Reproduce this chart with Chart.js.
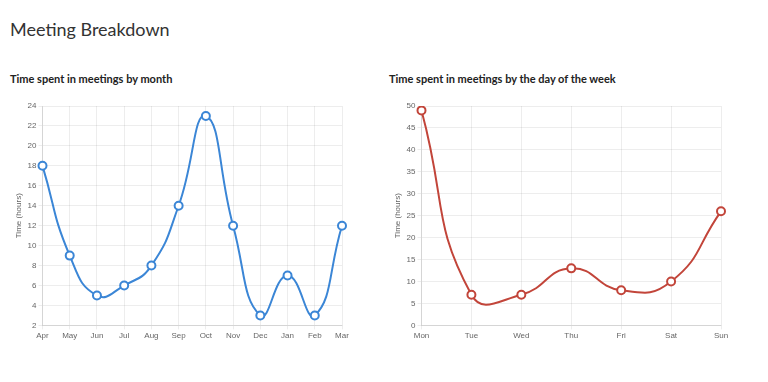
<!DOCTYPE html>
<html>
<head>
<meta charset="utf-8">
<script src="https://cdn.jsdelivr.net/npm/chart.js@4.4.1/dist/chart.umd.min.js"></script>
<style>
  body { margin: 0; background: #fff; font-family: Lato, sans-serif; color: #333; }
  .page { position: relative; width: 768px; height: 382px; overflow: hidden; }
  h1 { position: absolute; left: 10px; top: 18px; margin: 0; font-size: 18px; font-weight: 400; color: #333; }
  h2 { position: absolute; top: 72px; margin: 0; font-size: 11px; font-weight: 700; color: #222; }
  .box { position: absolute; top: 96px; width: 350px; height: 252px; }
</style>
</head>
<body>
<div class="page">
  <h1>Meeting Breakdown</h1>
  <h2 style="left:10px">Time spent in meetings by month</h2>
  <h2 style="left:389px">Time spent in meetings by the day of the week</h2>
  <div class="box" style="left:2px"><canvas id="monthChart" width="350" height="252"></canvas></div>
  <div class="box" style="left:381px"><canvas id="dayChart" width="350" height="252"></canvas></div>
</div>
<script>
// chart data
const months = ["Apr", "May", "Jun", "Jul", "Aug", "Sep", "Oct", "Nov", "Dec", "Jan", "Feb", "Mar"];
const monthHours = [18, 9, 5, 6, 8, 14, 23, 12, 3, 7, 3, 12];
const days = ["Mon", "Tue", "Wed", "Thu", "Fri", "Sat", "Sun"];
const dayHours = [49, 7, 7, 13, 8, 10, 26];

function makeChart(id, labels, values, color, yMin, yMax, step) {
  return new Chart(document.getElementById(id), {
    type: "line",
    data: {
      labels: labels,
      datasets: [{
        data: values,
        borderColor: color,
        borderWidth: 2,
        backgroundColor: "#fff",
        pointBackgroundColor: "#fff",
        pointBorderColor: color,
        pointBorderWidth: 2,
        pointRadius: 4,
        tension: 0.5,
        fill: false,
      }],
    },
    options: {
      responsive: false,
      animation: false,
      plugins: { legend: { display: false }, tooltip: { enabled: false } },
      layout: { padding: { top: 10, right: 10, left: 10, bottom: 5 } },
      scales: {
        x: {
          grid: { color: "rgba(0,0,0,0.07)", tickLength: 4 },
          ticks: { color: "#666", font: { size: 8, family: "Arial" }, padding: 2 },
        },
        y: {
          min: yMin,
          max: yMax,
          grid: { color: "rgba(0,0,0,0.07)", tickLength: 4 },
          ticks: { stepSize: step, color: "#666", font: { size: 8, family: "Arial" }, padding: 2 },
          title: { display: true, text: "Time (hours)", color: "#666", font: { size: 8, family: "Arial" }, padding: 2 },
        },
      },
    },
  });
}

makeChart("monthChart", months, monthHours, "#3b86d6", 2, 24, 2);
makeChart("dayChart", days, dayHours, "#c2453a", 0, 50, 5);
</script>
</body>
</html>
